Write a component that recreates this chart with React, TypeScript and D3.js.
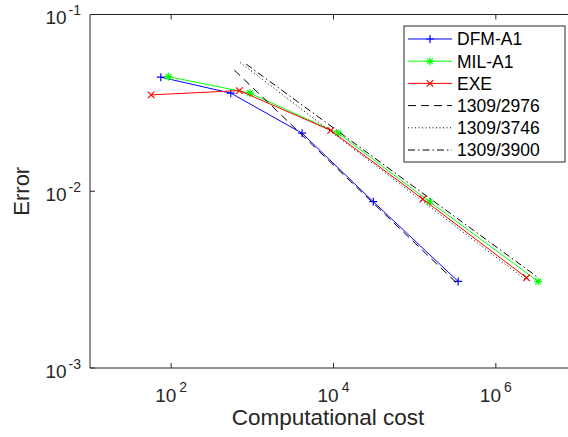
import React from 'react';
import * as d3 from 'd3';

// series (log-log)
const dfmCost = [74.6, 543, 4100, 30900, 343000];
const dfmErr = [0.0442, 0.0359, 0.0213, 0.00873, 0.00309];
const milCost = [92.6, 937, 11450, 152700, 3.32e6];
const milErr = [0.0445, 0.0359, 0.0213, 0.00873, 0.00309];
const exeCost = [56.7, 693, 9240, 126000, 2.39e6];
const exeErr = [0.0351, 0.0371, 0.0221, 0.00903, 0.00324];

// reference slopes
const refLabels = ['1309/2976', '1309/3746', '1309/3900'];
const refSlopes = [1309 / 2976, 1309 / 3746, 1309 / 3900];
const refStart = [600, 706, 840];
const refEnd = [343000, 2.39e6, 3.32e6];
const refEndErr = [0.00297, 0.00313, 0.00325];

const xTicks = [1e2, 1e4, 1e6];
const yTicks = [1e-3, 1e-2, 1e-1];

const W = 568;
const H = 437;
const left = 90;
const right = 577;
const top = 14.5;
const bottom = 368;

const FONT = '"Liberation Sans", Arial, Helvetica, sans-serif';
const AX = '#262626';

type Marker = 'plus' | 'star' | 'cross';

function MarkerShape({ x, y, type, color }: { x: number; y: number; type: Marker; color: string }) {
  const s = 4;
  if (type === 'plus') {
    return (
      <path d={`M${x - s},${y}H${x + s}M${x},${y - s}V${y + s}`} stroke={color} strokeWidth={1.2} fill="none" />
    );
  }
  if (type === 'cross') {
    const c = 3.3;
    return (
      <path d={`M${x - c},${y - c}L${x + c},${y + c}M${x - c},${y + c}L${x + c},${y - c}`} stroke={color} strokeWidth={1.2} fill="none" />
    );
  }
  const c = 2.9;
  return (
    <path
      d={`M${x - s},${y}H${x + s}M${x},${y - s}V${y + s}M${x - c},${y - c}L${x + c},${y + c}M${x - c},${y + c}L${x + c},${y - c}`}
      stroke={color}
      strokeWidth={1.1}
      fill="none"
    />
  );
}

export default function App() {
  const x = d3.scaleLog().domain([1e1, 1e7]).range([left, right]);
  const y = d3.scaleLog().domain([1e-3, 1e-1]).range([bottom, top]);
  const line = d3
    .line<[number, number]>()
    .x(d => x(d[0]))
    .y(d => y(d[1]));

  const series = [
    { name: 'DFM-A1', cost: dfmCost, err: dfmErr, color: '#0000ff', marker: 'plus' as Marker },
    { name: 'MIL-A1', cost: milCost, err: milErr, color: '#00ff00', marker: 'star' as Marker },
    { name: 'EXE', cost: exeCost, err: exeErr, color: '#ff0000', marker: 'cross' as Marker },
  ];
  const dashes = ['8,5', '1,2.5', '7,3,1.5,3'];

  const refs = refLabels.map((label, i) => {
    const pts: [number, number][] = [refStart[i], refEnd[i]].map(c => [
      c,
      refEndErr[i] * Math.pow(c / refEnd[i], -refSlopes[i]),
    ]);
    return { label, pts, dash: dashes[i] };
  });

  const legX = 404;
  const legY = 26;
  const legW = 161;
  const legH = 136;
  const rowH = 22.2;

  return (
    <div style={{ position: 'absolute', left: 0, top: 0 }}>
      <svg width={W} height={H} style={{ display: 'block', background: '#fff' }} fontFamily={FONT}>
        <defs>
          <clipPath id="plot">
            <rect x={left} y={top} width={right - left} height={bottom - top} />
          </clipPath>
        </defs>

        {/* data */}
        <g clipPath="url(#plot)">
          {series.map(s => (
            <g key={s.name}>
              <path
                d={line(s.cost.map((c, i) => [c, s.err[i]] as [number, number])) || ''}
                stroke={s.color}
                strokeWidth={1}
                fill="none"
              />
              {s.cost.map((c, i) => (
                <MarkerShape key={i} x={x(c)} y={y(s.err[i])} type={s.marker} color={s.color} />
              ))}
            </g>
          ))}
          {refs.map(r => (
            <path key={r.label} d={line(r.pts) || ''} stroke="#000" strokeWidth={1} strokeDasharray={r.dash} fill="none" />
          ))}
        </g>

        {/* axes box */}
        <g stroke={AX} strokeWidth={1} fill="none">
          <line x1={left} x2={right} y1={top} y2={top} />
          <line x1={left} x2={right} y1={bottom} y2={bottom} />
          <line x1={left} x2={left} y1={top} y2={bottom} />
          <line x1={right} x2={right} y1={top} y2={bottom} />
          {xTicks.map(t => (
            <g key={t}>
              <line x1={x(t)} x2={x(t)} y1={bottom} y2={bottom - 5} />
              <line x1={x(t)} x2={x(t)} y1={top} y2={top + 5} />
            </g>
          ))}
          {yTicks.map(t => (
            <g key={t}>
              <line x1={left} x2={left + 5} y1={y(t)} y2={y(t)} />
              <line x1={right} x2={right - 5} y1={y(t)} y2={y(t)} />
            </g>
          ))}
        </g>

        {/* tick labels */}
        <g fill={AX}>
          {xTicks.map(t => (
            <text key={t} x={x(t)} y={bottom + 33.7} textAnchor="middle" fontSize={19}>
              10
              <tspan dx={3} dy={-10} fontSize={14}>
                {Math.round(Math.log10(t))}
              </tspan>
            </text>
          ))}
          {yTicks.map(t => (
            <text key={t} x={81} y={y(t) + 9.5} textAnchor="end" fontSize={19}>
              10
              <tspan dx={2} dy={-9} fontSize={14}>
                {Math.round(Math.log10(t))}
              </tspan>
            </text>
          ))}
        </g>

        {/* axis titles */}
        <text x={(left + 566) / 2} y={425} textAnchor="middle" fontSize={22.5} fill={AX}>
          Computational cost
        </text>
        <text transform={`translate(28.5,${(top + bottom) / 2}) rotate(-90)`} textAnchor="middle" fontSize={22} fill={AX}>
          Error
        </text>

        {/* legend */}
        <g>
          <rect x={legX} y={legY} width={legW} height={legH} fill="#fff" stroke={AX} strokeWidth={1} />
          {series.map((s, i) => {
            const cy = legY + 13 + i * rowH;
            return (
              <g key={s.name}>
                <line x1={408} x2={452} y1={cy} y2={cy} stroke={s.color} strokeWidth={1} />
                <MarkerShape x={430} y={cy} type={s.marker} color={s.color} />
                <text x={457} y={cy + 6.3} fontSize={17.5} fill="#000">
                  {s.name}
                </text>
              </g>
            );
          })}
          {refs.map((r, i) => {
            const cy = legY + 13 + (i + 3) * rowH;
            return (
              <g key={r.label}>
                <line x1={408} x2={452} y1={cy} y2={cy} stroke="#000" strokeWidth={1} strokeDasharray={r.dash} />
                <text x={457} y={cy + 6.3} fontSize={17.5} fill="#000">
                  {r.label}
                </text>
              </g>
            );
          })}
        </g>
      </svg>
    </div>
  );
}
